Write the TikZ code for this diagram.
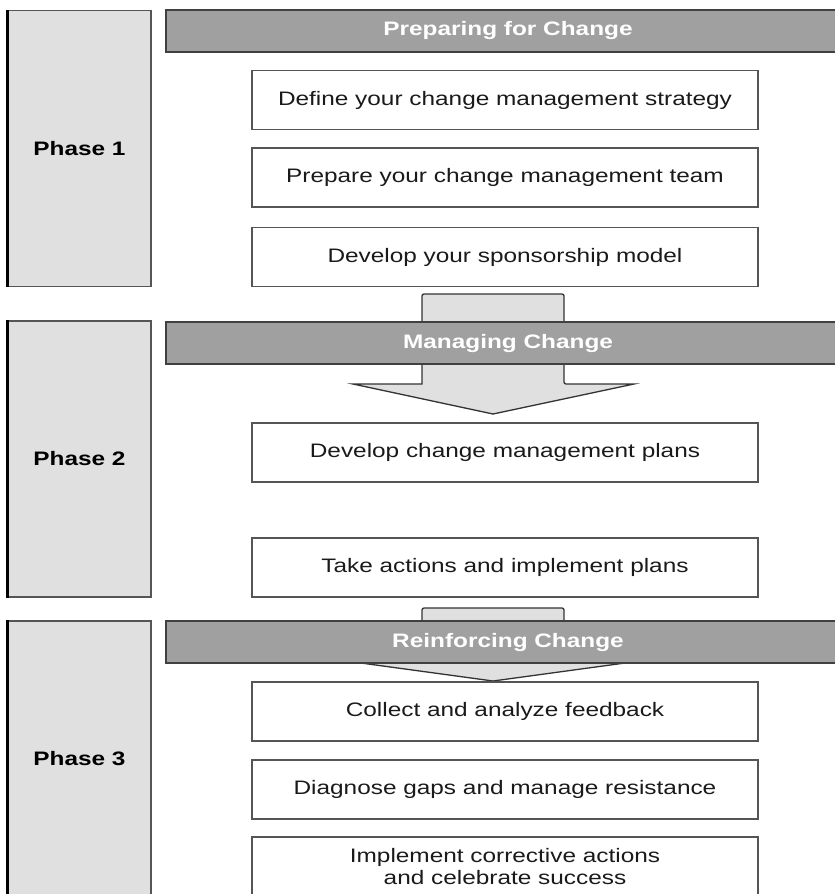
\documentclass[tikz,border=0pt]{standalone}
\usepackage{fontspec}
\setmainfont{Liberation Sans}[FakeStretch=1.25]
\usepackage{tikz}

\definecolor{phasegray}{HTML}{E0E0E0}
\definecolor{bandgray}{HTML}{A0A0A0}
\definecolor{edgegray}{HTML}{555555}
\definecolor{textgray}{HTML}{1A1A1A}

\tikzset{
  phasebox/.style={draw=edgegray, line width=1.2pt, fill=phasegray,
    minimum width=143pt, minimum height=276pt, inner sep=0pt,
    font=\fontsize{19.5}{22}\selectfont\bfseries},
  bandbox/.style={draw=black!75, line width=1.5pt, fill=bandgray,
    minimum width=684pt, minimum height=42pt, inner sep=0pt,
    text=white, font=\fontsize{19.5}{22}\selectfont\bfseries},
  stepbox/.style={draw=edgegray, line width=1.2pt, fill=white,
    minimum width=506pt, minimum height=59pt, inner sep=0pt, align=center,
    text=textgray, font=\fontsize{19.5}{22}\selectfont},
  blockarrow/.style={draw=black!80, line width=1.3pt, fill=phasegray,
    rounded corners=2pt}
}

\begin{document}
\begin{tikzpicture}[x=1pt, y=-1pt]
    \useasboundingbox (0, 0) rectangle (835, 894);

    % phase columns
    \node[phasebox] (phase1) at (79.5, 148.5) {Phase 1};
    \node[phasebox] (phase2) at (79.5, 459) {Phase 2};
    \node[phasebox] (phase3) at (79.5, 759) {Phase 3};
    \foreach \p in {phase1, phase2, phase3} {
      \draw[black, line width=3pt] (\p.north west) -- (\p.south west);
    }

    % block arrows (drawn first, the bands cover them)
    \draw[blockarrow]
      (422, 294) -- (564, 294) -- (564, 384) [sharp corners] -- (634, 384)
      -- (493, 414) -- (353, 384) -- (422, 384) [rounded corners=2pt] -- cycle;
    \draw[blockarrow]
      (422, 608) -- (564, 608) -- (564, 663) [sharp corners] -- (625, 663)
      -- (493, 681) -- (361, 663) -- (422, 663) [rounded corners=2pt] -- cycle;

    % bands
    \node[bandbox] (prep) at (508, 31) {Preparing for Change};
    \node[bandbox] (manage) at (508, 343) {Managing Change};
    \node[bandbox] (reinf) at (508, 642) {Reinforcing Change};

    % steps
    \node[stepbox] (strategy) at (505, 100) {Define your change management strategy};
    \node[stepbox] (team) at (505, 177.5) {Prepare your change management team};
    \node[stepbox] (sponsor) at (505, 257) {Develop your sponsorship model};

    \node[stepbox] (plans) at (505, 452.5) {Develop change management plans};
    \node[stepbox] (actions) at (505, 567.5) {Take actions and implement plans};

    \node[stepbox] (feedback) at (505, 711.5) {Collect and analyze feedback};
    \node[stepbox] (gaps) at (505, 789.5) {Diagnose gaps and manage resistance};
    \node[stepbox, text depth=0pt] (success) at (505, 866.5)
      {Implement corrective actions\\and celebrate success};
  \end{tikzpicture}
\end{document}
